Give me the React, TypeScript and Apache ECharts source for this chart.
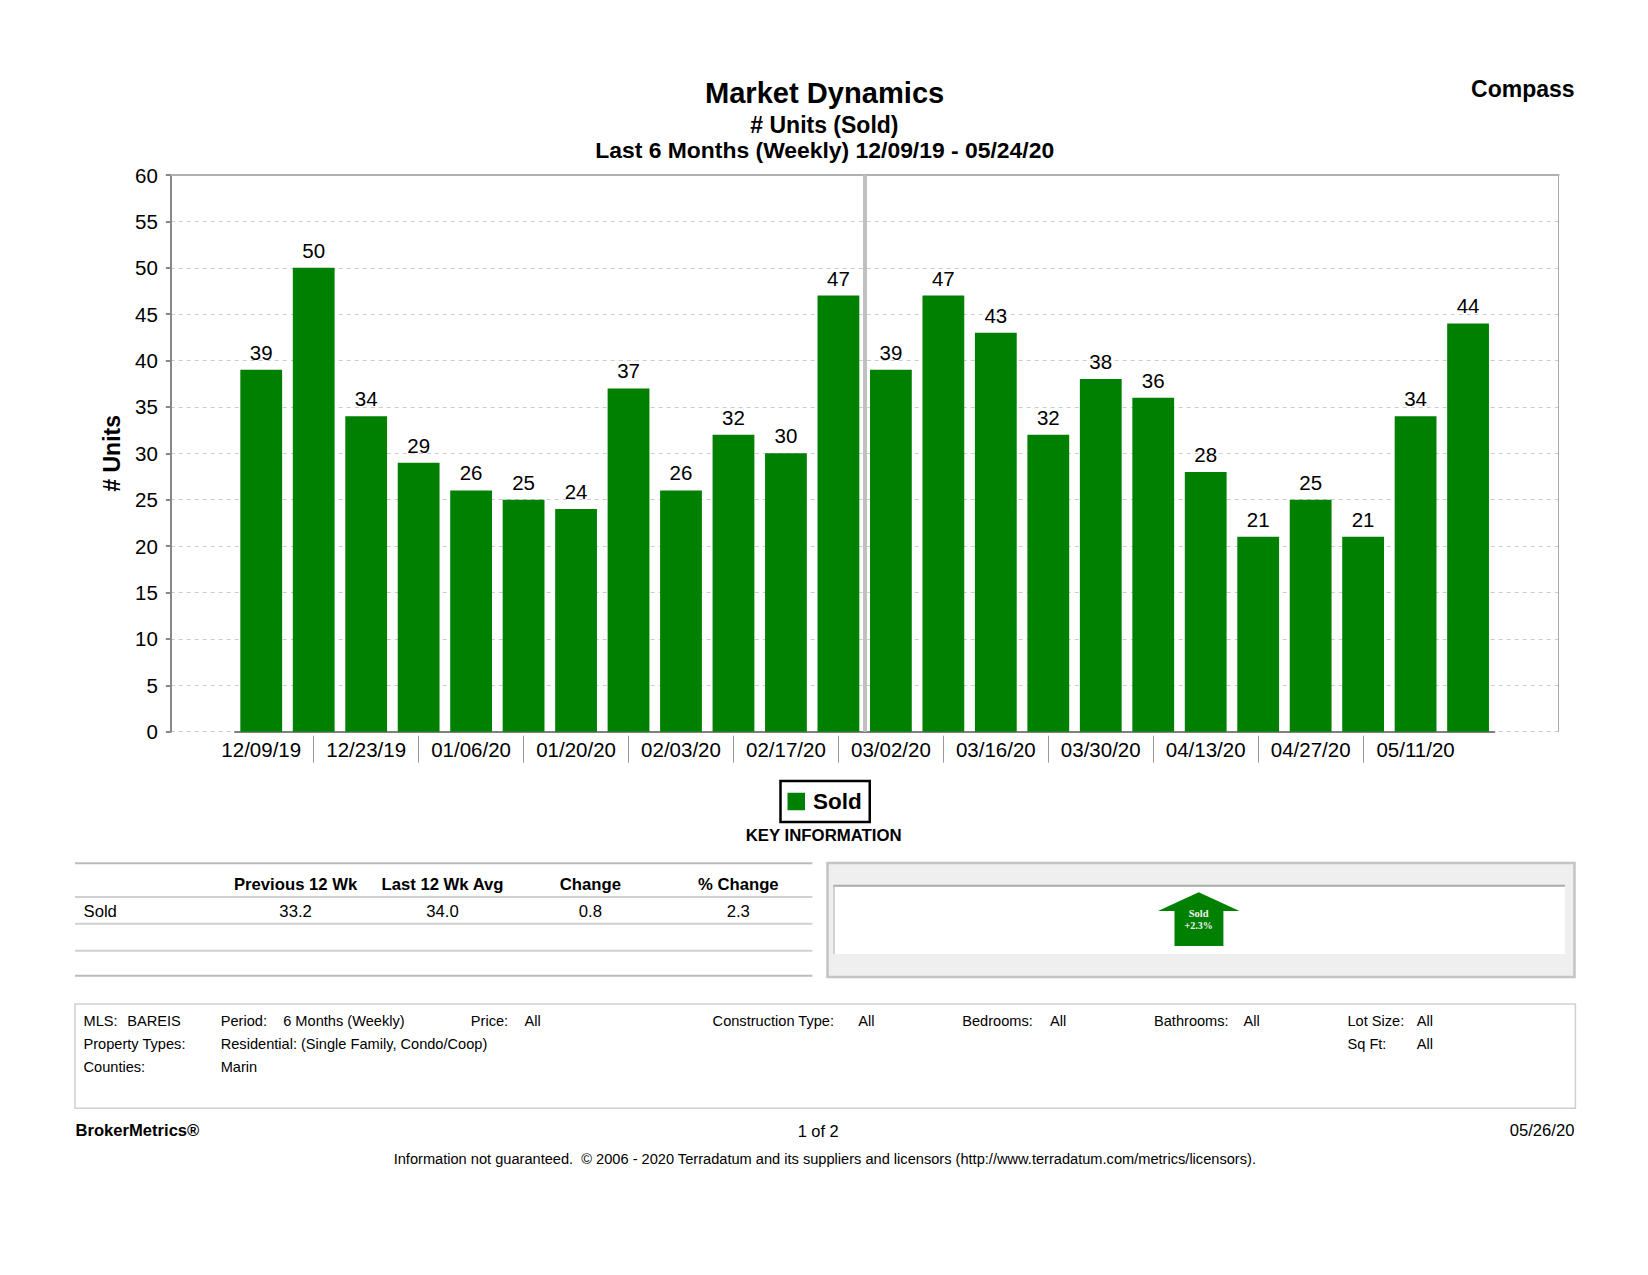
import React, { useEffect, useRef } from "react";
import * as echarts from "echarts";

const categories = ["12/09/19","12/16/19","12/23/19","12/30/19","01/06/20","01/13/20","01/20/20","01/27/20","02/03/20","02/10/20","02/17/20","02/24/20","03/02/20","03/09/20","03/16/20","03/23/20","03/30/20","04/06/20","04/13/20","04/20/20","04/27/20","05/04/20","05/11/20","05/18/20"];
const soldValues = [39,50,34,29,26,25,24,37,26,32,30,47,39,47,43,32,38,36,28,21,25,21,34,44];
const tableHeaders = [["Previous 12 Wk",295.6],["Last 12 Wk Avg",442.5],["Change",590.4],["% Change",738.3]] as const;
const tableValues = [["33.2",295.6],["34.0",442.5],["0.8",590.4],["2.3",738.3]] as const;
const infoRows = [
  ["MLS:",83.5,1026],["BAREIS",127.2,1026],["Period:",220.7,1026],["6 Months (Weekly)",283.2,1026],["Price:",470.8,1026],["All",524.4,1026],
  ["Construction Type:",712.6,1026],["All",858.2,1026],["Bedrooms:",962.2,1026],["All",1050,1026],["Bathrooms:",1154,1026],["All",1243.5,1026],
  ["Lot Size:",1347.5,1026],["All",1416.7,1026],["Property Types:",83.5,1049],["Residential: (Single Family, Condo/Coop)",220.7,1049],
  ["Sq Ft:",1347.5,1049],["All",1416.7,1049],["Counties:",83.5,1072],["Marin",220.7,1072],
] as const;

const FONT = "'Liberation Sans', Arial, sans-serif";

function txt(text: string, x: number, baseline: number, size: number, weight: string = "normal", align: string = "left", fill = "#000", family = FONT) {
  return {
    type: "text", x, y: baseline - 0.346 * size, z: 20, silent: true,
    style: { text, fill, fontSize: size, fontWeight: weight, fontFamily: family, align, textAlign: align, verticalAlign: "middle", textVerticalAlign: "middle" },
  };
}
function hline(x1: number, x2: number, y: number, color: string, width: number) {
  return { type: "line", z: 5, silent: true, shape: { x1, y1: y, x2, y2: y }, style: { stroke: color, lineWidth: width } };
}

const graphics: any[] = [
  txt("Market Dynamics", 824.6, 102.7, 29.1, "bold", "center"),
  txt("# Units (Sold)", 824.4, 133.2, 23, "bold", "center"),
  txt("Last 6 Months (Weekly) 12/09/19 - 05/24/20", 824.7, 157.8, 22.9, "bold", "center"),
  txt("Compass", 1574.6, 96.7, 23, "bold", "right"),
  txt("KEY INFORMATION", 823.7, 841.7, 16.8, "bold", "center"),
  hline(75, 812.4, 863.3, "#bbbbbb", 2),
  hline(75, 812.4, 897, "#d0d0d0", 2),
  hline(75, 812.4, 923.7, "#d0d0d0", 2),
  hline(75, 812.4, 950.7, "#d0d0d0", 2),
  hline(75, 812.4, 975.7, "#bbbbbb", 2),
  ...tableHeaders.map(([t, x]) => txt(t, x, 890, 16.7, "bold", "center")),
  txt("Sold", 83.5, 917, 16.7),
  ...tableValues.map(([t, x]) => txt(t, x, 917, 16.7, "normal", "center")),
  { type: "rect", z: 3, silent: true, shape: { x: 827.5, y: 863, width: 747, height: 114 }, style: { fill: "#efefef", stroke: "#c4c4c4", lineWidth: 2.5 } },
  { type: "rect", z: 4, silent: true, shape: { x: 833.5, y: 885.3, width: 731.5, height: 68.7 }, style: { fill: "#ffffff" } },
  hline(833.5, 1565, 885.8, "#aaaaaa", 2),
  { type: "line", z: 5, silent: true, shape: { x1: 834, y1: 885, x2: 834, y2: 954 }, style: { stroke: "#aaaaaa", lineWidth: 1 } },
  { type: "polygon", z: 6, silent: true, shape: { points: [[1198.7,892.3],[1239.5,911],[1223.4,911],[1223.4,946],[1174.5,946],[1174.5,911],[1158,911]] }, style: { fill: "#008000" } },
  txt("Sold", 1198.7, 917, 10.5, "bold", "center", "#f2f2f2", "'Liberation Serif', serif"),
  txt("+2.3%", 1198.7, 928.5, 10, "bold", "center", "#f2f2f2", "'Liberation Serif', serif"),
  { type: "rect", z: 3, silent: true, shape: { x: 75, y: 1004, width: 1500.4, height: 104.3 }, style: { fill: "#ffffff", stroke: "#cfcfcf", lineWidth: 1.5 } },
  ...infoRows.map(([t, x, b]) => txt(t, x, b, 14.6)),
  txt("BrokerMetrics®", 75.5, 1136.3, 16.6, "bold"),
  txt("1 of 2", 818.2, 1136.3, 16.4, "normal", "center"),
  txt("05/26/20", 1574.4, 1136.3, 16.6, "normal", "right"),
  txt("Information not guaranteed.  © 2006 - 2020 Terradatum and its suppliers and licensors (http://www.terradatum.com/metrics/licensors).", 824.8, 1164, 14.62, "normal", "center"),
];

const option: any = {
  animation: false,
  backgroundColor: "#ffffff",
  textStyle: { fontFamily: FONT },
  legend: {
    data: ["Sold"], left: 780.5, top: 781, orient: "horizontal", selectedMode: false,
    padding: [9, 8, 9, 7], borderColor: "#000", borderWidth: 2.5, backgroundColor: "#fff",
    icon: "rect", itemWidth: 17.5, itemHeight: 17.5,
    textStyle: { fontSize: 22.5, fontWeight: "bold", color: "#000", fontFamily: FONT, padding: [0, 0, 0, 3] },
  },
  grid: [
    { left: 170.8, top: 175, width: 1387.8, height: 556.7 },
    { left: 235, top: 175, width: 1259.3, height: 556.7 },
  ],
  xAxis: [
    { gridIndex: 0, type: "value", position: "top", min: -1.723, max: 24.72,
      axisLine: { show: true, onZero: false, lineStyle: { color: "#b0b0b0", width: 2 } },
      axisTick: { show: false }, axisLabel: { show: false }, splitLine: { show: false } },
    { gridIndex: 1, type: "category", data: categories, position: "bottom",
      axisLine: { show: true, lineStyle: { color: "#808080", width: 2 } },
      axisTick: { show: false }, axisLabel: { show: false } },
    { gridIndex: 1, type: "category", data: categories, position: "bottom", offset: 4,
      axisLine: { show: false },
      axisTick: { show: true, alignWithLabel: true, length: 27, interval: (i: number) => i % 2 === 1 && i < 22, lineStyle: { color: "#999999", width: 1 } },
      axisLabel: { show: true, interval: 1, margin: 3, fontSize: 20.5, color: "#000", fontFamily: FONT } },
  ],
  yAxis: [
    { gridIndex: 0, type: "value", min: 0, max: 60, interval: 5, name: "# Units", nameLocation: "middle", nameGap: 47,
      nameTextStyle: { fontSize: 23, fontWeight: "bold", color: "#000", fontFamily: FONT },
      axisLine: { show: true, onZero: false, lineStyle: { color: "#888888", width: 2 } },
      axisTick: { show: true, length: 5, lineStyle: { color: "#888888", width: 2 } },
      axisLabel: { fontSize: 20.5, color: "#000", margin: 13, fontFamily: FONT },
      splitLine: { show: true, lineStyle: { color: "#cccccc", type: [4, 4], width: 1 } } },
    { gridIndex: 0, type: "value", position: "right", min: 0, max: 60, interval: 5,
      axisLine: { show: true, onZero: false, lineStyle: { color: "#aaaaaa", width: 1 } },
      axisTick: { show: false }, axisLabel: { show: false }, splitLine: { show: false } },
    { gridIndex: 1, type: "value", min: 0, max: 60, interval: 5, show: false, splitLine: { show: false } },
  ],
  series: [
    { name: "divider", type: "scatter", xAxisIndex: 0, yAxisIndex: 0, data: [], silent: true,
      markLine: { silent: true, symbol: "none", label: { show: false }, animation: false,
        lineStyle: { color: "#c0c0c0", width: 4, type: "solid" }, data: [{ xAxis: 11.5 }] } },
    { name: "Sold", type: "bar", xAxisIndex: 1, yAxisIndex: 2, data: soldValues, barWidth: 41.8,
      itemStyle: { color: "#008000" },
      label: { show: true, position: "top", distance: 7, fontSize: 20.5, color: "#000", fontFamily: FONT } },
  ],
  graphic: { elements: graphics },
};

export default function App() {
  const ref = useRef<HTMLDivElement>(null);
  useEffect(() => {
    if (!ref.current) return;
    const chart = echarts.init(ref.current, undefined, { renderer: "svg" });
    chart.setOption(option);
    return () => chart.dispose();
  }, []);
  return <div ref={ref} style={{ position: "absolute", left: 0, top: 0, width: 1648, height: 1275 }} />;
}
